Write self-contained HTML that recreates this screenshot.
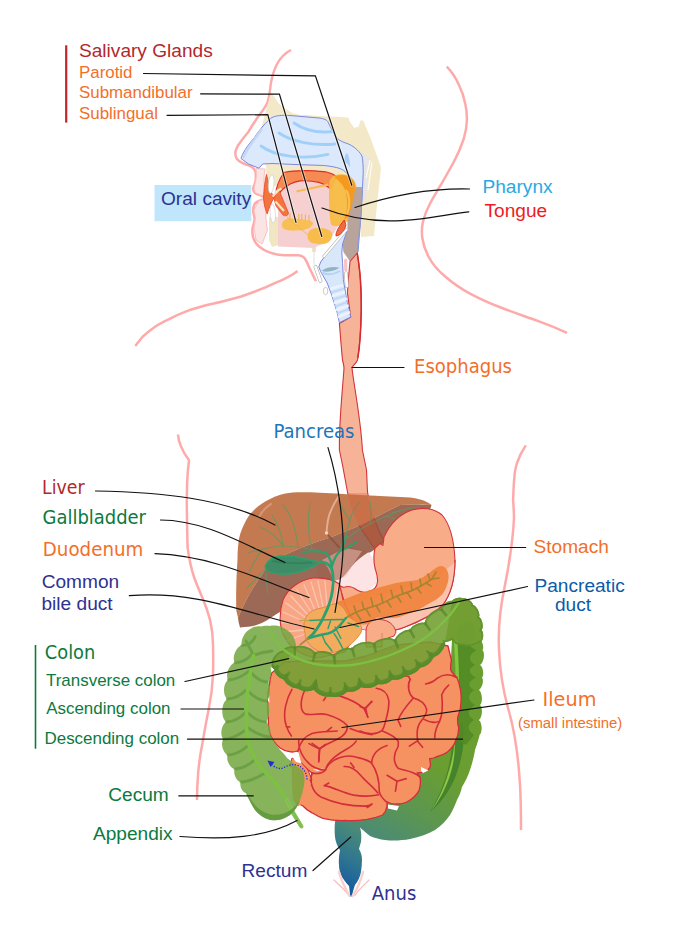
<!DOCTYPE html>
<html lang="en">
<head>
<meta charset="utf-8">
<title>Digestive system diagram</title>
<style>
html,body{margin:0;padding:0;background:#fff;}
svg{display:block;}
.lib{font-family:"Liberation Sans",Arial,sans-serif;}
.dv{font-family:"DejaVu Sans","Liberation Sans",sans-serif;}
.ln{fill:none;stroke:#111;stroke-width:1.2;stroke-linecap:round;}
.skin{fill:none;stroke:#ffaaaa;stroke-width:2.5;stroke-linecap:butt;stroke-linejoin:round;}
</style>
</head>
<body>
<svg width="680" height="942" viewBox="0 0 680 942">
<defs>
<linearGradient id="gSig" gradientUnits="userSpaceOnUse" x1="430" y1="760" x2="350" y2="895">
<stop offset="0" stop-color="#6a9e30"/>
<stop offset="0.33" stop-color="#5c9650"/>
<stop offset="0.62" stop-color="#4a8a78"/>
<stop offset="0.81" stop-color="#2f7590"/>
<stop offset="1" stop-color="#1458a0"/>
</linearGradient>
</defs>
<rect width="680" height="942" fill="#fff"/>

<!-- BODY OUTLINE -->
<g id="outline" class="skin">
<path d="M291,50 C279,56 272,70 270,90 C269.500,96 268.500,99 267.500,102.500 C265,108 261,113 257.500,117.500 C254,123 251,127 248.500,131.800 C245,136 242,139.500 240.300,142.400 C238,145 236.800,147.500 236.200,149.400 C235.400,151 235.200,152.500 235.400,154 C235.600,156 236,157.500 236.800,158.800 C238,160.500 240,162 242.600,163 C245,164 247,164.800 248.500,165.300 C250.500,166 252,167 253.200,168.200 C254.800,169.800 255.600,171.500 255.800,173 L255.800,178.800 C255.500,181 255,183 254.400,184.700 C253.600,186 253.200,187.500 253.200,188.800 C253.200,190.500 253.600,191.500 254.400,192.400 C255.600,193.500 257.500,194.200 259.100,194.700 L263.800,197"/>
<path d="M263,199.500 L259,201 C257,201.800 255.500,202.800 254.700,203.800 C253.500,206 253.200,208.500 253.200,211 C253.400,214 254.200,216.500 254.700,218.500 C254.500,222 253,225.500 252.500,228.800 C252.200,232 252.500,235 253.200,237.600 C254.500,241.500 256.500,244.500 259,246.500 C262,249 265.500,251 269.400,252.400 C274,254 279,255 284,255.300 L298.800,255.300 C301,255.600 303,256.600 304.700,258.200 C306.500,261 308,264 309,267 L315.900,281.300"/>
<path d="M297.600,271 C291,276 284,279.500 276.500,282.400 C265,288 253,292.500 241.200,296.500 C229,300 217,303 205.900,305.300 C200,307 194,308.700 188.200,310.600 C182,313 176,315.500 170.600,318.400 C164,321.500 158,324.500 153,328.200 C149,331 145.500,334 142.400,337 C140,340 137.500,343 135.300,346"/>
<path d="M446.800,66.600 C452,72 456,78 458.900,85 C462,91 464,97 465.300,104 C466.500,109 467,114 466.900,120 C466.800,127 465.500,133 463.700,139 C461,147 458,154 454,161.500 C450,169 446,176 441.400,183.800 C437.500,190 434,196.500 430.300,203 C427,209 424.500,215.500 422.900,222 C421.800,227 421.600,232.500 422.300,238 C423.200,244.500 425.500,251 428.700,257 C432.500,264 438,270.500 444.600,276 C452,282.500 460.500,288.500 470,293.600 C480,299 491,303.800 502,308 C513.500,312.500 525.500,316.500 537,320.700 C547.500,324.500 557.500,328.500 567,332.800"/>
<path d="M178,434.500 C178.500,444 183,452 189,460.300 L187.800,471.500 C187,482 186.800,494 186.800,505 C187,520 187.200,534 187.600,547.400 C189,558 191,568 194,577 C196.500,584 199.500,591 202.500,598 C205.500,605 208,612 210,619.600 C212,628 213,636 213,645 C213.300,655 213.300,665 213,674.800 C212.500,686 211,698 208.800,708.700 C206.500,720 204.500,731 202.500,742.700 C200.500,753 199,763 198.200,772.400 C197.500,781 197,790 197,800"/>
<path d="M525.800,445.400 C522,451 519,457 517,463 C515,470 514.500,473 514.500,476.300 C513.500,485 513.500,492 513.100,500 C513.500,506 514,512 514,518 C513,540 510,560 505,585 C500,608 498,630 499,650 C500,672 503,690 508,708 C514,728 518,750 520,785 C521,802 521,818 521,830"/>
</g>

<!-- HEAD -->
<g id="head">
<!-- bone (beige) -->
<path d="M271,92 L279,104 L292,113 L300,114.700 L348.500,117.600 L350,122 L354.400,128 L358.800,126.500 L360.300,120.600 L363.200,120.600 L370.600,138.200 L378,158.800 L381,167.600 L379.400,182.400 L377,205 L374,236 L361,237 L358,200 L345,178 L330,176 L282,176 L276,186 L267,186 L266,166 L258,140 Z" fill="#f3e9c9"/>
<!-- gray gaps (vertebra) -->
<path d="M362,151.500 L370.600,158.800 L368,170 L366,200 L363,200 L364,170 Z" fill="#e6e6e6"/>
<path d="M370,160 L366,178 M372,162 L368,190" stroke="#fff" stroke-width="1" fill="none"/>
<!-- upper lip skin fill -->
<path d="M256,168.500 C257,175 256,180 255,184 C254,188 254,191 256,193 L262,195.500 L265,192.500 C263.500,186 263.500,178 265,169 Z" fill="#fbe4e4" stroke="#fbc0c0" stroke-width="1"/>
<path d="M259,201 L264,199.500 L266.500,203 C265,212 266,222 267.500,230 L262,244 L256,240 L254,228 L255.500,218 L254,210 Z" fill="#fbe4e4" stroke="#fbc0c0" stroke-width="1"/>
<!-- mandible beige -->
<path d="M269,217 L279,217 L279,245 L272,247 L269,240 Z" fill="#f1e6c4"/>
<rect x="312" y="244" width="4" height="8" fill="#f1e6c4"/>
<!-- nasal cavity + nasopharynx -->
<path d="M241,158.500 C242,154 247,146 254.400,137.600 C260,129 266,122 272,117.500 C276,115.500 282,115 290,115.500 L319,118 C324,118.500 327,120 328,122 C331,128 334,134 336.800,138.200 C340,141 344,142.500 348.500,144 C353,146 356,148.500 358.800,151.500 C361,154 362.300,156 362.500,158.800 C363.200,165 363.300,170 363.200,173.500 L362.500,188 L361,215 L358,252 L354,252 L355.500,190 C355,184 352,178 345.600,172 C343,169.500 340,168.500 336.800,167.600 C330,166 325,165.600 322,165.400 L300,164.700 L272,163.500 L262.600,164 L259,168.200 L248.500,164 Z" fill="#dce9fc" stroke="#7c88de" stroke-width="1"/>
<path d="M243,158 C246,150 254,140 262,129" fill="none" stroke="#c2d6f6" stroke-width="2.500"/>
<g fill="none" stroke="#a0d0f8" stroke-width="2.800" stroke-linecap="round">
<path d="M294,123 C304,130 318,133 332,131.600"/>
<path d="M279,133 C292,142 314,146 335,144"/>
<path d="M261,146 C276,157 304,160 328,154.400"/>
</g>
<path d="M344,161.800 C344.500,157 345.500,154 347,153 C349,156 350,162 350,167.600 C348,164 346,162.500 344,161.800 Z" fill="#a6cdf6"/>
<!-- oral cavity pink -->
<path d="M278,190 C282,180 296,176 312,176 L334,180 L338,226 L330,240 L314,248 L278,246.500 Z" fill="#f6d0d0"/>
<!-- palate -->
<path d="M275,197 C276,186 280,178 284,172.500 C292,170.500 300,170.500 308,170.600 C318,171 324,171.500 326.500,172 C331,173 334,174.500 336.800,176.500 L331,189 C327,185.500 323,183.500 319,182.400 C313,181 306,180.500 300,180.900 C293,182 287,185 282,190 C279,193 277.500,195.500 276.800,198 Z" fill="#f58a52" stroke="#dc2f24" stroke-width="1.100" stroke-linejoin="round"/>
<!-- lips / muscle -->
<path d="M266.500,174.400 C265,180 264,188 263.500,198 C264,205 265.500,210 267.200,214 C269,208 271,203 273.800,198 C271,192 268.500,184 266.500,174.400 Z" fill="#f4743d" stroke="#e8402c" stroke-width="0.800"/>
<path d="M273.800,198 L279,190 L288.500,213 C288,216 285,216.500 283,215 L276,206 Z" fill="#f4743d" stroke="#e8402c" stroke-width="0.700"/>
<path d="M272.500,196.500 L279,190 M275,192 L281.500,188.500" stroke="#f1e2c0" stroke-width="2.200" fill="none"/>
<path d="M275.500,201.500 L284,211" stroke="#f1e2c0" stroke-width="2.200" fill="none"/>
<!-- teeth -->
<ellipse cx="271.200" cy="184" rx="2.800" ry="9.300" fill="#fff" stroke="#c8c8c8" stroke-width="0.600" transform="rotate(5 271.200 184)"/>
<ellipse cx="272.800" cy="213.500" rx="2.600" ry="9.500" fill="#fff" stroke="#c8c8c8" stroke-width="0.600" transform="rotate(-4 272.800 213.500)"/>
<!-- stensen duct -->
<path d="M296.600,191.300 C306,189.500 317,187 328.200,184.700" fill="none" stroke="#f4bb55" stroke-width="2.200"/>
<!-- parotid -->
<path d="M329.400,182 C331,176 336,174 342,174.300 C348,174.500 353,177 355.900,183.800 C357.500,190 357,200 355,210 C352,218 346,224 339,226 C335,226.500 332,225.500 331,224.400 C329,215 328.500,195 329.400,182 Z" fill="#f8bb42" opacity="0.950"/>
<path d="M334,177 C340,173.500 349,174.500 353.500,181 C356.500,188 356,200 352,210 C350,215 347,218.500 344,220 C348,210 348,198 345,190 C342.500,184 338.500,180 334,177 Z" fill="#f59a1e"/>
<path d="M346,190 C350,196 350.500,206 347,214" fill="none" stroke="#fad070" stroke-width="2" opacity="0.700"/>
<!-- sublingual -->
<path d="M282,226 C281.500,221.500 285,219 288.500,218.500 C296,218 304,219.500 310.600,220.700 C313,222 313.500,223 312.800,224.400 C311,228 305,230.300 298.800,230.300 C292,231 283,231 282,226 Z" fill="#f8be4a" opacity="0.930"/>
<path d="M290,219 v-5.500 M294.400,219.500 v-6 M298.800,220 v-6 M301.800,220 v-6 M305.400,220.500 v-6 M309,221 v-6" stroke="#eeb45a" stroke-width="1.100"/>
<path d="M287,217 C294,223 301,229 307.600,234.700" fill="none" stroke="#f2b74c" stroke-width="1"/>
<!-- submandibular -->
<path d="M307.600,236 C307.500,231 312,228 316.500,228 C323,227.500 330,229 332,233 C333,238 330,242 326,243.500 C322,244.500 316,244.500 312,243 C309,241.500 307.600,239 307.600,236 Z" fill="#f8bb42" opacity="0.950"/>
<!-- pharynx grey -->
<path d="M355.500,187 L362.300,187 L361,215 L357.200,252 L350,261.500 L343.400,252 L342.600,244 L347.400,229.600 L347.400,220 L352,205 Z" fill="#b9a49b"/>
<path d="M362.500,188 L361,215 L357.200,252" fill="none" stroke="#8d97e0" stroke-width="1"/>
<!-- epiglottis red -->
<path d="M344.200,220 C341,224 338,228 336.900,231.200 C336,233.500 335.800,235 336.100,236 C339,235.500 341.500,233.500 343.400,231.200 C345,228.500 345.800,226.500 345.800,224.700 Z" fill="#f26a40" stroke="#e02a20" stroke-width="0.900"/>
<!-- esophagus -->
<path d="M350,261.500 L357.200,253 C358,258 358.600,261 358.800,263.500 C359.500,270 360,275 360.400,279.700 C361,287 361.200,292 361.200,296 C361.400,304 361.300,308 361.200,312 C361,322 360,345 357.500,360 C356,364 352,366 352,368 C353,380 361,420 362.400,450 L366.500,470 L367.500,492 C371,512 378,530 384,541 L375,549 L366,536 C356,522 349,505 347.500,492 L342.500,465 L339.400,450 C339,420 343,385 344,368 C344,366 343,362 342.500,360 C341,345 340,330 339.400,323.400 L350.700,317 L347.400,292.700 L348.300,279.700 Z" fill="#f7b397" stroke="#d2343a" stroke-width="1.100"/>
<path d="M357.200,253 C358.600,262 360,272 360.400,279.700 C361.200,292 361.300,304 361.200,312 C361,325 360,345 357.800,358" fill="none" stroke="#d62a30" stroke-width="1.500"/>
<!-- larynx / trachea -->
<path d="M346.600,228.800 L338.500,239.300 L328.800,250.600 L320.700,262 L318.800,266.800 L320.700,271.600 L327.200,283 L332,296 L337,312 L339.400,322.600 L350.700,317 L346.600,299 L343.400,279.700 L342.600,263.500 L341.800,252.200 L342.600,244 L345.800,234.400 L347.400,229.600 Z" fill="#d9e7fb" stroke="#7c88de" stroke-width="1" stroke-linejoin="round"/>
<path d="M321.600,270.800 C327,267 334,266.500 339.400,267.600 C335,271 327,273 321.600,270.800 Z" fill="#8fb4c2"/>
<path d="M322.500,273 C328,275 335,274 340,271" fill="none" stroke="#b4d2f4" stroke-width="2"/>
<path d="M330,289 L343,285 M332,296 L345,292 M334,303 L347,298.500 M336,310 L348.500,305.500 M338,317 L350,312" stroke="#eaf3ff" stroke-width="2.600" fill="none"/>
<path d="M331,292.500 L344,288.500 M333,299.500 L346,295.500 M335,306.500 L347.500,302 M337,313.500 L349,309" stroke="#bcd6f8" stroke-width="1.600" fill="none"/>
<!-- cartilages -->
<path d="M346.600,229.600 L324,256.300" stroke="#b0b0b0" stroke-width="3" stroke-linecap="round" fill="none"/>
<path d="M346.600,229.600 L324,256.300" stroke="#fff" stroke-width="1.900" stroke-linecap="round" fill="none"/>
<path d="M314,247 L314,265" stroke="#d8d8d8" stroke-width="0.800" fill="none"/>
<path d="M315.500,267 L320.500,281" stroke="#b0b0b0" stroke-width="3.800" stroke-linecap="round" fill="none"/>
<path d="M315.500,267 L320.500,281" stroke="#fff" stroke-width="2.600" stroke-linecap="round" fill="none"/>
<ellipse cx="325.600" cy="291" rx="2.200" ry="3.800" fill="#fff" stroke="#b8b8b8" stroke-width="0.700"/>
<path d="M345.600,260 L345.800,270" stroke="#f9c2c8" stroke-width="3.200" stroke-linecap="round" fill="none"/>
<path d="M346,273.500 L346.800,286" stroke="#b0b0b0" stroke-width="4" stroke-linecap="round" fill="none"/>
<path d="M346,273.500 L346.800,286" stroke="#fff" stroke-width="2.800" stroke-linecap="round" fill="none"/>
</g>

<!-- ABDOMEN placeholder -->
<g id="abdomen">
<!-- lesser omentum pale -->
<path d="M316,562 L345,546 L368,551 L374,560 L378,582 L367,593 L350,587 L343,588 L332,583 L318,580 Z" fill="#fde3e3"/>
<!-- liver main -->
<path d="M431.500,505 C426,500 415,497 400,497 C380,496 360,495 342.500,494 C320,492.500 305,492 292.500,492.500 C282,493.500 276,496 270,499 C264,502 259,505 255,509 C250,513.500 247,518 245,522.500 C241,530 239,537 238.500,542.500 C237.500,550 237.500,556 237.500,560 C236.500,575 236,590 236.200,610 L238,618 C243,606 249,594 255,585 C259,579 262,574 265,570 C270,564 275,560 280,557.500 C288,553 297,549.500 305,546.200 C314,543 322,540 330,537.500 C339,534 348,530.500 355,527.500 C364,523.500 373,519 380,515 C388,511 394,508 400,505 C410,504 422,504.500 431.500,505 Z" fill="#c47a50"/>
<!-- liver underside (translucent darker) -->
<path d="M431.500,505 C422,504.500 410,504 400,505 C394,508 388,511 380,515 C373,519 364,523.500 355,527.500 C348,530.500 339,534 330,537.500 C322,540 314,543 305,546.200 C297,549.500 288,553 280,557.500 C275,560 270,564 265,570 C262,574 259,579 255,585 C249,594 243,606 238,618 L238.700,622.500 L240,627.500 C246,627 251,626.500 255,625.500 C260,624 264,622 267.500,620 C272,617 276,614 280,612 C283,606 286,600 290,596 C296,590 302,586 310,584 C316,582 324,581 332,581.500 L340,579 C345,576 348,571 352,566 C356,561 362,556 368,552.500 L370,552.500 C374,550 377,548 380,545 L390,540 L400,522 L415,513 L430,510 Z" fill="#8a4f37" opacity="0.850"/>
<path d="M322,560 L345,548 L362,551 L352,566 L346,576 L334,581 L328,568 Z" fill="#f0bcb4" opacity="0.500"/>
<!-- liver highlights -->
<path d="M259,517 C262,511 266,507 271,504" fill="none" stroke="#dc9c7c" stroke-width="2.200" stroke-linecap="round" opacity="0.800"/>
<path d="M338.500,496.500 C333,505 329,513 327.800,521 C327.200,525 326.800,529 326.500,532.500" fill="none" stroke="#e6b8a0" stroke-width="1.900" stroke-linecap="round" opacity="0.850"/>
<circle cx="326.500" cy="533" r="1.700" fill="#efd2c0"/>
<path d="M328,535 L339.700,548" fill="none" stroke="#8a5030" stroke-width="1.700" opacity="0.850"/>
<!-- liver veins (thin green) -->
<g fill="none" stroke="#5d9a63" stroke-width="1.200" stroke-linecap="round" opacity="0.750">
<path d="M325,552 C310,549 295,546 282,546 C270,546.500 258,550 248,553"/>
<path d="M283,546 C282,535 278,524 272,515 M283,546 C278,538 270,531 260,527"/>
<path d="M312,549 C308,535 307,520 310,503"/>
<path d="M298,547 C296,530 291,514 283,505"/>
<path d="M262,550 C256,558 252,566 249,572 M270,565 C262,572 255,580 247,588 M266,572 C266,580 267,588 268,594"/>
<path d="M340,551 C344,540 348,528 350,520 C352,512 356,506 360,502 M350,520 C345,514 342,508 340,503 M344,540 C352,534 362,528 370,524 C378,520 390,514 400,511"/>
<path d="M370,524 C372,516 371,508 370,502 M385,516 C392,517 398,520 404,524 M392,513 C400,510 410,508 420,507"/>
</g>
<!-- esophagus seen through liver -->
<path d="M347.500,493 C349,505 356,522 366,536 L375,549 L384,541 C378,530 371,512 367.500,493 Z" fill="#d8553a" opacity="0.280"/>
<!-- stomach -->
<path d="M375,548 L380,543.500 L383,545.500 L384,537 C390,524 400,514 412,510 C422,507 434,508 442,515 C450,524 454,540 455,560 C455,580 450,596 442,606 C432,616 418,622 405,627 C396,631 372,634 352,626 L339,585 C341,587 343,587.500 345,587 C349,585.500 353,587 357,590 C360,592 364,592.500 367,592 C372,591 377,588 377.500,582 C378,576 376,572 375,568 C374,563 373,556 375,548 Z" fill="#f8ac87" stroke="#d2343a" stroke-width="1.100" stroke-linejoin="round"/>
<path d="M455,562 C455,580 450,596 442,606 C432,616 418,622 405,627 C396,631 372,634 352,626 L346,606 L400,590 L440,575 Z" fill="#fbc3ad"/>
<path d="M455,560 C455,580 450,596 442,606 C432,616 418,622 405,627 C400,629 396,630 392,631" fill="none" stroke="#d2343a" stroke-width="1.100"/>
<!-- DJ flexure dome -->
<path d="M366,647 L366,630 C367,622 373,619 380,619.500 C388,620 394,624 396,632 L394,636 L382,640 L382,647 Z" fill="#f8ac87" stroke="#d2343a" stroke-width="1"/>
<path d="M382,633 L382,645" stroke="#e0705a" stroke-width="0.800" fill="none"/>
<!-- duodenum -->
<path d="M339.500,584 C333,579.500 322,577.500 313,578 C300,580 288,588 283,600 C279,612 279,626 284,636 C290,648 302,656 318,658 L345,652 L358,630 L343,600 Z" fill="#f8a686" stroke="#d2343a" stroke-width="1.100"/>
<g stroke="#fbc6b0" stroke-width="1.300" fill="none" stroke-linecap="round">
<path d="M306,618 L286,603 M305,622 L283,612 M304,626 L282,622 M304,630 L283,632 M305,634 L286,641 M308,615 L291,596 M311,612 L297,590 M315,610 L304,585 M319,608 L311,582 M323,607 L318,581 M327,606 L325,581 M331,605 L332,582 M335,604 L338,586"/>
</g>
<!-- pancreas body -->
<path d="M332,606 C336,602 340,601 343,600 C349,597 355,595 360.500,593 C372,589 385,586 396,583 C404,581.500 412,581 417.500,580 C423,578 427,574 430,572.500 C434,569 438,566 441,566 C445,566 448,570 448.500,575 C449,580 447,586 445,590 C442,596 436,600 430,603 C422,608 412,613 405,615 C400,617 396,618 392,618 C387,618.500 382,617 378,617.500 C373,619 370,624 366,624.500 C362,625 359,624 357,623 C352,621 349,618 348,616 Z" fill="#f0823a" opacity="0.900"/>
<!-- pancreas head -->
<path d="M304,623 C305,614 313,609 322,608 C328,606 333,603.500 337.500,603.500 C343,606 346,611 348,616 C352,620 358,622 360.500,624.500 C362,628 362,631 360.500,633.500 C356,640 350,646 343,649.500 C337,652 330,653.500 325,653 C319,652 314,649 311,646 C307,642 305,638 305,633.500 C304,630 304,626 304,623 Z" fill="#f3ab5e" stroke="#e0863a" stroke-width="0.900"/>
<!-- pancreatic duct + branches (olive on body) -->
<g fill="none" stroke="#a7842f" stroke-width="1.600" stroke-linecap="round">
<path d="M346,618 C352,614 356,612 360.500,610.500 C368,608 373,606.500 378,605 C386,602 391,598.500 396,596.500 C402,594 408,592.500 414,589.500 C420,587 426,583 432,579"/>
<path d="M356,612.500 L354,606 M356,612.500 L361,620 M364,609.500 L362,602 M366,609 L370,616 M373,606.500 L371,598 M376,605.500 L380,612 M383,603 L381,594 M387,601 L391,607 M393,598 L391,590 M397,596 L401,602 M403,594 L401,586 M407,592.500 L411,598 M412,590.500 L411,583 M417,588 L421,593 M421,586 L420,579 M426,583 L431,586 M430,580 L428,574 M432,579 L439,578 M432,579 L436,572"/>
</g>
<!-- gallbladder + bile ducts -->
<g fill="none" stroke="#2ca06e" stroke-linecap="round" stroke-linejoin="round">
<path d="M320,562 C325,562 329,564 331.500,568 C333.500,574 333.500,582 332.500,590 C331.500,598 329,606 325,614 C322,621 318,628 313,634 L308,638.500" stroke-width="2.800"/>
<path d="M332,566 C331,560 328,555 325,552.500 M332,566 C334,559 337,554 340,551" stroke-width="2.400"/>
<path d="M325,552.500 C318,551 310,551 303,552 M340,551 C343,546 345,541 346,536 M340,551 C346,549 351,546 356,542" stroke-width="1.800"/>
</g>
<path d="M265.500,565.500 C268,560 274,556.500 281,556 C290,555.500 299,557 306,559 C312,560.500 317,561.500 320.500,562.500 C316,565 311,568 305,570 C297,573 288,574.500 280,574 C272,573.500 264,571 265.500,565.500 Z" fill="#3f8d66" stroke="#2ca06e" stroke-width="1.500"/>
<path d="M272,561 C282,563 296,564 312,562.500" fill="none" stroke="#2f7d58" stroke-width="2" opacity="0.600"/>
<!-- ducts in pancreas head -->
<g fill="none" stroke="#2ca06e" stroke-linecap="round" stroke-linejoin="round">
<path d="M309,638 C316,636 322,634.500 328,633.500 C335,632 340,626 344.500,619.500 L346,618" stroke-width="2.400"/>
<path d="M309.500,620.500 C320,620 332,619.500 343,619.500" stroke-width="1.300"/>
<path d="M330.500,621 L328,628.500 M334,633.500 C338,639 341,645 343,649 M325,642 L332,651 M335,627 L341,638.500 M348,623 L358.500,626.500 M322,635 L326,644" stroke-width="1.400"/>
</g>
<path d="M299,620.500 L309.500,620.500" stroke="#c8a24a" stroke-width="1.300" fill="none"/>
<path d="M308,638.500 L300.500,644.500" stroke="#b08a3c" stroke-width="2" fill="none" stroke-linecap="round"/>

<!-- descending colon + sigmoid + rectum (behind small intestine) -->
<path id="dcolon" d="M452,601 C453.1,598.2 460.8,596.5 463,598.5 C465.9,597.3 472.9,601.8 473,605 C476.5,605.5 480.7,613.9 479,617 C482.2,618.4 484,627.5 481.5,630 C483.5,631.8 482.4,638.8 480,640 C482.6,641 484.3,648 482.5,650 C485.4,652.8 483.7,663.3 480,665 C483.1,666.4 484.4,675.2 482,677.5 C484.3,680.1 482,688.8 478.8,690 C482.3,692 483.1,702.5 480,705 C483.1,707.5 482.3,718 478.8,720 C482.2,722.1 482.7,732.6 479.5,735 C480,734 478,742 475,750 C474,757 472,764 470,770 C468,776 465,782 462,787 C461,792 459,796 457,800 C455,805 453,810 450,815 C446,821 441,826 435,830 C428,834 420,837 410,839 C402,840.500 393,841 385,840 C380,839.500 375,838 370,836 C366,833 363,830 360,827.500 C361.500,832 361.500,837 361,842 C360,845 359.500,847 359,849 C361,852 362,856 362,860 C362,864 361.500,868 361,872 C360,877 358,881 355,885 C353.500,889 352.500,893 352,896.500 L350,896.500 C350,893 349.500,889 349,886 C346,883 344,880 342,877 C340,873 339,869 339,865 C338.500,860 339,855 340,850 C337,846 335.500,841 335,837 C334.500,832 334.500,827 335,822 C336,818 340,815 346,814 L380,805 L395,790 L415,765 L435,740 L448,710 L452,640 L445,642 Z" fill="url(#gSig)"/>
<!-- dark shading on descending colon -->
<path d="M462.500,722 C466,740 462,760 455,778 C449,792 440,804 430,812 C442,792 450,770 452,745 C452.500,735 455,726 462.500,722 Z" fill="#3f7f2a" opacity="0.850"/>
<path d="M457.500,630 C460,622 468,618 474,624 L476.500,640 Q464,645 476.500,650 Q464,657.500 475,665 Q464,671 476,677.500 Q463.500,684 474,690 Q463.500,697.500 475,705 Q463,712.500 474,720 Q463,727 474,735 L466,745 L458,740 Z" fill="#528a26" opacity="0.900"/>
<path d="M455.500,640 C456.500,652 457,665 457.300,678 C457.500,690 457,700 456,708" fill="none" stroke="#82c83c" stroke-width="3.400" stroke-linecap="butt"/>
<path d="M454.500,740 C454,752 451,765 447,777 C443,790 437,802 431,811 C440,800 447,786 451,772 C454,762 455.500,750 454.500,740 Z" fill="#8dc63f"/>
<!-- anus -->
<g fill="none" stroke="#f7bcbc" stroke-width="1.200" stroke-linecap="round">
<path d="M334,880 C339,885 345,890 349,895.500"/>
<path d="M369,880 C364,885 358,890 355,895.500"/>
<path d="M339,872 C341,880 345,888 349.500,896 M363,872 C361,880 358,888 352.500,896" stroke="#f9d0d0" stroke-width="2.400"/>
</g>

<!-- small intestine -->
<path d="M271.700,673 C270,678 269.500,682 269.300,686 C267.500,692 267.300,697 267.700,702.400 C267.200,708 267.600,713 268.500,718.500 C268,723 268.500,727 269.300,731.500 C270,735 271.500,737.500 273,740 C275,743 277,745.500 279.800,747.700 C283,750 286,751.300 289.500,751.700 C292,752.200 295,752 297.600,751 L300.800,764 C303,765 304.500,766.500 306,768 C308,769.500 310,771.500 312,773 C310.500,777 310.500,781 311,784 C307,788 303,792 300,797 C299,800 298.800,802 299,804 L303,806 C305.500,809 308.500,811 312,812.800 C315.500,815 319,817 323,818.300 C330,820 338,820.700 345,820.500 C352,821 360,820.500 367,819.400 C372,818.500 378,817 382.700,815 C385,812.500 386.500,809.500 387,806 L387,801.800 C390,803.500 393,804.300 396,804 C401,804 405.500,803 409,800.700 C413,798.500 416.500,795 419,790.700 C420.500,786 420.800,781.500 420,777.500 L417,773 C421,772.800 425,772 428,770 C430,768 430.800,766 430.400,763.600 L429.600,758.700 C432,758.600 434,758 436,757 C440,756 444,754.500 447.400,752 C451,749 454,745.500 455.500,741 C457.500,737 458.800,732.500 458.700,728 C457.500,724 457.300,720 457.900,716.600 C460,712 461,707 461,702 C461.500,697 461,693 460.300,689 C459.500,685 458.500,681 457,677.800 C454.500,675.500 452,673 450.600,669.700 C450.500,666 450.800,663 451.400,660 L448,646 L430,642 L396,645 L382,650 L366,656 L345,661 L300,661 L285,662 Z" fill="#f69262" stroke="#d32d3b" stroke-width="1.300" stroke-linejoin="round"/>
<path d="M292,758 L300,761 L308,770 L312,780 L306,781 L300,772 L290,766 Z" fill="#f69262" stroke="#d32d3b" stroke-width="1"/>
<g fill="#fff">
<path d="M290,753.500 L298.500,752 L301.500,763.500 L296,762 Z"/>
<path d="M313,769.500 L323,768.500 L318,771 Z"/>
<path d="M388,804.500 L399,806 L397,810.500 L388,808.500 Z"/>
<path d="M421,767 L428.500,770.500 L423,773 L421,771 Z"/>
<path d="M269,694 L267.500,700 L269.500,703 Z"/>
</g>
<g fill="none" stroke="#d32d3b" stroke-width="9.900" stroke-linecap="round" stroke-linejoin="round" transform="translate(262 670) scale(0.16176)">
<path d="M185,120 C150,180 125,270 150,345 C160,375 172,395 182,408 M150,350 L172,352"/>
<path d="M262,130 C235,190 235,250 265,270 C300,285 350,262 400,275 C450,290 500,310 528,345 C530,390 490,420 440,440 C410,452 380,470 355,487"/>
<path d="M222,500 C235,450 255,410 310,392 C360,380 420,382 465,377 M400,380 L430,355"/>
<path d="M290,455 C315,470 340,480 355,487 C352,510 350,540 352,560"/>
<path d="M380,188 L393,170"/>
<path d="M480,160 C540,180 600,210 632,240 L655,292 M632,240 L680,195"/>
<path d="M545,362 C590,380 640,395 680,400"/>
</g>
<g fill="none" stroke="#d32d3b" stroke-width="9.900" stroke-linecap="round" stroke-linejoin="round" transform="translate(360 660) scale(0.16176)">
<path d="M100,175 C140,180 170,200 178,250 C182,300 165,350 155,390 C150,410 142,428 135,437 C100,462 50,462 0,438"/>
<path d="M0,288 L35,300 L72,255 M35,300 L47,352"/>
<path d="M310,120 C290,160 300,210 330,235 C370,245 400,265 412,305 C415,340 385,365 368,392 C352,420 350,460 357,500"/>
<path d="M330,235 C290,280 250,330 235,372 L252,410"/>
<path d="M395,367 C430,385 470,390 492,378 C515,330 510,260 505,215 C515,190 530,170 548,155"/>
<path d="M405,148 C440,142 460,130 478,112 C510,90 550,80 598,108"/>
<path d="M492,380 C475,410 462,445 462,482"/>
<path d="M305,532 L355,500 L387,540"/>
<path d="M135,437 C180,455 225,480 237,505 L236,530"/>
<path d="M310,120 L300,100 L250,95"/>
</g>
<g fill="none" stroke="#d32d3b" stroke-width="7.300" stroke-linecap="round" stroke-linejoin="round" transform="translate(290 740) scale(0.2206)">
<path d="M100,150 C130,155 160,148 165,125 C175,95 215,65 250,45 C270,35 290,20 300,5"/>
<path d="M165,125 C190,85 250,60 310,80 C340,88 360,95 370,105 C395,140 405,190 405,235 C410,255 425,270 437,280"/>
<path d="M100,150 C88,190 100,235 140,258 C200,285 280,300 340,300 C355,300 365,295 372,290 M372,290 L350,306"/>
<path d="M155,207 C200,215 240,240 290,250 C330,257 370,255 402,248 M155,207 L176,195"/>
<path d="M245,120 C275,118 300,135 320,160 C345,190 375,210 398,240 M275,104 L290,124"/>
<path d="M370,105 C372,70 395,40 440,25"/>
<path d="M490,30 C470,60 465,100 490,128 C520,140 560,140 590,168"/>
<path d="M440,160 L485,187 L527,175 M485,187 L478,232"/>
<path d="M100,15 L135,40 L160,20 M135,40 L130,100"/>
<path d="M40,0 C35,40 60,90 100,118 C120,130 145,138 162,135"/>
</g>

<path d="M291.500,761 L300,763.500 L306,772 L311,784 L307,800 L298,806.500 L293,800 L292,785 Z" fill="#f69262"/>
<!-- ascending colon + cecum -->
<path id="acolon" d="M261,626.5 C259.3,625.6 252.5,627 251.3,628.4 C249.2,628.6 243.9,633.9 243.7,636 C242.3,637.2 240.9,643.9 241.8,645.6 C236.1,646.3 231.4,658.4 235,662.8 C229.4,663.6 224.7,675.6 228.4,680 C223.1,682.6 222.4,695.9 227.4,699 C221.1,702.2 220.4,718.3 226.5,722 C221.4,723.8 219.4,735.9 223.6,739.3 C220,742.8 223.1,753.8 228,755 C225.3,759 230.2,768.8 235,769 C232.4,772.6 236.6,781.7 241,782 C238.8,785 242.3,792.7 246,793 C246.3,794.4 249.1,800 250,801 C250.4,802.6 253.9,808.9 255,810 C255.9,811.4 261.5,816.3 263,817 C264.1,817.8 269.7,819.9 271,820 C272.5,820.3 279.5,820 281,819.5 C282.5,819.2 288.8,816 290,815 C291.2,814.2 295.4,809.3 296,808 C296.9,807 299.7,801.4 300,800 C300.8,798.6 302.9,791.6 303,790 C303.6,788.6 304.7,781.6 304.5,780 C304.6,778.6 303.6,772.3 303,771 C302,769.8 296.4,765.6 295,765 C294.1,763.6 288.5,758.7 287,758 C286.3,756.5 281.4,750.9 280,750 C279.4,748.6 275.2,743 274,742 C273.7,740.8 270.9,735.9 270,735 C272,732.2 268.9,723.1 265.7,722 C270,719 270.7,704.3 266.6,701 C270.6,698.4 271.3,685.1 267.6,682 C271,680.2 272.6,669.7 270,667 C271.1,667.8 276.7,668.5 278,668 C279.8,667.4 285.4,661.8 286,660 C288.7,658.5 295.7,648 296,645 C296.2,643 293.1,635.3 291.5,634 C290.4,632 282.3,626.7 280,626.5 C278.5,625.6 271.5,625.3 270,626 C268.6,625.4 262.3,625.7 261,626.5 Z" fill="#73a73f" opacity="0.860"/>
<!-- ascending folds -->
<path d="M241.8,645.6 Q251.8,645.1 255.2,636.6 M235.0,662.8 Q245.0,662.3 252.2,653.8 M228.4,680.0 Q238.4,679.5 249.1,671.0 M227.4,699.0 Q237.4,698.5 246.2,690.0 M226.5,722.0 Q236.5,721.5 245.0,713.0 M223.6,739.3 Q233.6,738.8 245.0,730.3 M228.0,755.0 Q238.0,754.5 247.5,746.0 M235.0,769.0 Q245.0,768.5 254.5,760.0 M241.0,782.0 Q251.0,781.5 265.1,773.0 M267.6,682.0 Q258.6,681.5 251.7,673.0 M266.6,701.0 Q257.6,700.5 248.9,692.0 M265.7,722.0 Q256.7,721.5 248.0,713.0 M270.0,737.0 Q261.0,736.5 248.0,728.0 M253.5,655.5 Q262,652 272,651 M253.5,655.5 Q250,648 246,641" fill="none" stroke="#5c963a" stroke-width="2.800" stroke-linecap="round" opacity="0.650"/>
<!-- taenia ascending -->
<path d="M253.500,655.500 C251,668 249,680 247.500,691.500 C246.500,704 246.200,717 246.500,729.700 C247,742 251,753 257,762 C263,770 270,778 277,785 C283,793 288,803 292,812 L301,826" fill="none" stroke="#7dc142" stroke-width="3.600" stroke-linecap="round"/>
<!-- appendix -->
<path d="M287,800 C291,809 296,818 301.500,826.500" fill="none" stroke="#8cbf62" stroke-width="4" stroke-linecap="round"/>
<path d="M287,800 C291,809 296,818 301.500,826.500" fill="none" stroke="#7dc142" stroke-width="1.600" stroke-linecap="round"/>
<!-- cecum shadow bottom -->
<path d="M245,790 C248,797 251,804 255,810 C259,815 264,818.500 270,820 C277,821.500 284,819 290,815 C295,811 298,806 300,800 C296,806 290,812 282,814 C272,816.500 262,813 255,805 C250,799 247,794 245,790 Z" fill="#5c963a" opacity="0.800"/>
<!-- blue dotted arrow -->
<path d="M307,779.500 C307,774 304,768 298,765.500 C292,763 287,766 283,768 C279,769.500 275,767.500 271.500,764.500" fill="none" stroke="#2030d0" stroke-width="1.300" stroke-dasharray="1.300 1.500"/>
<path d="M267.500,760.500 L274.500,762 L270.500,767 Z" fill="#2030d0"/>

<!-- transverse colon -->
<clipPath id="cT"><path d="M272,664 C270.6,659.8 277.6,650.8 282,651 C283.1,647.5 292.2,644.7 295,647 C299.3,643.5 313.3,647.7 315,653 C318.5,649.3 331.8,651.4 334,656 C335.1,650.9 347.7,645.7 352,648.5 C354.2,642.9 369.6,639.4 374,643.5 C376.4,638.4 391.1,635.9 395,640 C395.1,635.2 405.6,628.2 410,630 C410.7,625.7 421.2,620.8 425,623 C424.3,617.4 435.5,607.6 441,609 C440.9,605.4 448.6,599.8 452,601 C453.1,598.2 460.8,596.5 463,598.5 C465.9,597.3 472.9,601.8 473,605 C476.5,605.5 480.7,613.9 479,617 C482.2,618.4 484,627.5 481.5,630 C484.1,631.9 483.7,640.3 481,642 C479.6,643.1 471.8,645.9 470,646 C467.8,646.4 458,645 456,644 C455.2,643.6 452.4,640.8 452,640 C451.1,640.6 446.2,642.1 445,642 C446.5,646.9 438.1,657.4 433,657 C433.2,661.4 424.1,668.4 420,667 C419.5,671.2 409.8,676.5 406,674.5 C404.9,678.3 395.1,681.4 392,679 C390.9,682.8 381.1,685.9 378,683.5 C376.1,687.7 364.2,689.8 361,686.5 C359.9,690.3 350.1,693.4 347,691 C345.6,695.5 333.7,699 330,696 C326.1,698.5 314.9,693.6 314,689 C311.4,692.4 300.2,691.7 298,688 C293.9,689.7 284.1,683.4 284,679 C280.3,679.7 273.3,672.7 274,669 C272.6,668.7 271.2,665.2 272,664 Z"/></clipPath>
<path id="tcolon" d="M272,664 C270.6,659.8 277.6,650.8 282,651 C283.1,647.5 292.2,644.7 295,647 C299.3,643.5 313.3,647.7 315,653 C318.5,649.3 331.8,651.4 334,656 C335.1,650.9 347.7,645.7 352,648.5 C354.2,642.9 369.6,639.4 374,643.5 C376.4,638.4 391.1,635.9 395,640 C395.1,635.2 405.6,628.2 410,630 C410.7,625.7 421.2,620.8 425,623 C424.3,617.4 435.5,607.6 441,609 C440.9,605.4 448.6,599.8 452,601 C453.1,598.2 460.8,596.5 463,598.5 C465.9,597.3 472.9,601.8 473,605 C476.5,605.5 480.7,613.9 479,617 C482.2,618.4 484,627.5 481.5,630 C484.1,631.9 483.7,640.3 481,642 C479.6,643.1 471.8,645.9 470,646 C467.8,646.4 458,645 456,644 C455.2,643.6 452.4,640.8 452,640 C451.1,640.6 446.2,642.1 445,642 C446.5,646.9 438.1,657.4 433,657 C433.2,661.4 424.1,668.4 420,667 C419.5,671.2 409.8,676.5 406,674.5 C404.9,678.3 395.1,681.4 392,679 C390.9,682.8 381.1,685.9 378,683.5 C376.1,687.7 364.2,689.8 361,686.5 C359.9,690.3 350.1,693.4 347,691 C345.6,695.5 333.7,699 330,696 C326.1,698.5 314.9,693.6 314,689 C311.4,692.4 300.2,691.7 298,688 C293.9,689.7 284.1,683.4 284,679 C280.3,679.7 273.3,672.7 274,669 C272.6,668.7 271.2,665.2 272,664 Z" fill="#74a033" opacity="0.890"/>
<g clip-path="url(#cT)"><path d="M272,664 C270.6,659.8 277.6,650.8 282,651 C283.1,647.5 292.2,644.7 295,647 C299.3,643.5 313.3,647.7 315,653 C318.5,649.3 331.8,651.4 334,656 C335.1,650.9 347.7,645.7 352,648.5 C354.2,642.9 369.6,639.4 374,643.5 C376.4,638.4 391.1,635.9 395,640 C395.1,635.2 405.6,628.2 410,630 C410.7,625.7 421.2,620.8 425,623 C424.3,617.4 435.5,607.6 441,609 C440.9,605.4 448.6,599.8 452,601 C453.1,598.2 460.8,596.5 463,598.5 C465.9,597.3 472.9,601.8 473,605 C476.5,605.5 480.7,613.9 479,617 C482.2,618.4 484,627.5 481.5,630 C484.1,631.9 483.7,640.3 481,642 C479.6,643.1 471.8,645.9 470,646 C467.8,646.4 458,645 456,644 C455.2,643.6 452.4,640.8 452,640 C451.1,640.6 446.2,642.1 445,642 C446.5,646.9 438.1,657.4 433,657 C433.2,661.4 424.1,668.4 420,667 C419.5,671.2 409.8,676.5 406,674.5 C404.9,678.3 395.1,681.4 392,679 C390.9,682.8 381.1,685.9 378,683.5 C376.1,687.7 364.2,689.8 361,686.5 C359.9,690.3 350.1,693.4 347,691 C345.6,695.5 333.7,699 330,696 C326.1,698.5 314.9,693.6 314,689 C311.4,692.4 300.2,691.7 298,688 C293.9,689.7 284.1,683.4 284,679 C280.3,679.7 273.3,672.7 274,669 C272.6,668.7 271.2,665.2 272,664 Z" fill="none" stroke="#5a8e2c" stroke-width="3.600" opacity="0.700"/><path d="M445,642 C446.5,646.9 438.1,657.4 433,657 C433.2,661.4 424.1,668.4 420,667 C419.5,671.2 409.8,676.5 406,674.5 C404.9,678.3 395.1,681.4 392,679 C390.9,682.8 381.1,685.9 378,683.5 C376.1,687.7 364.2,689.8 361,686.5 C359.9,690.3 350.1,693.4 347,691 C345.6,695.5 333.7,699 330,696 C326.1,698.5 314.9,693.6 314,689 C311.4,692.4 300.2,691.7 298,688 C293.9,689.7 284.1,683.4 284,679 C280.3,679.7 273.3,672.7 274,669 C272.6,668.7 271.2,665.2 272,664" fill="none" stroke="#578a2a" stroke-width="9" opacity="0.850"/></g>
<path d="M295,647 L294.5,655 M315,653 L313.2,660.8 M334,656 L335,663.9 M352,648.5 L354.4,656.1 M374,643.5 L375.6,651.3 M395,640 L397.8,647.5 M410,630 L413.9,637 M425,623 L429.5,629.6 M441,609 L446.1,615.2 M433,657 L427.3,651.3 M420,667 L415.6,660.3 M406,674.5 L402.8,667.1 M392,679 L389.6,671.4 M378,683.5 L376.1,675.7 M361,686.5 L359.1,678.7 M347,691 L344.7,683.4 M330,696 L330.5,688 M314,689 L315.9,681.2 M298,688 L300.5,680.4 M284,679 L289,672.7" fill="none" stroke="#5a8a2a" stroke-width="2.600" stroke-linecap="round" opacity="0.750"/>
<!-- transverse taenia -->
<path d="M270.500,632 C272,637 275,641 278,644 C282,649 287,652.500 291.500,655 C296,658 301,660 306.800,661.800 C312,663.500 317,664.500 322,665 C332,666 342,666 352,665 C364,663.500 376,660 388,656 C400,651.500 412,646 422,640 C432,633.500 442,624 450,615 C454,610 457,606 459,602" fill="none" stroke="#7dc142" stroke-width="2.300" stroke-linecap="round"/>
</g>


<!-- LEADER LINES -->
<g id="leaderhalo" fill="none" stroke="#fff" stroke-width="3" stroke-opacity="0.450" stroke-linecap="round">
<path d="M315.400,75.900 L351.800,185.300"/>
<path d="M279.400,94.200 L321.800,236.500"/>
<path d="M267.800,114.700 L296,222.400"/>
</g>
<g id="leaders" class="ln">
<path d="M143.500,73.500 L315.400,75.900 L351.800,185.300"/>
<path d="M200.600,93.800 L279.400,94.200 L321.800,236.500"/>
<path d="M167,115.300 L267.800,114.700 L296,222.400"/>
<path d="M469.500,189 C430,188 390,196 355,207.500"/>
<path d="M468.800,211.800 C430,216 385,232 322,208"/>
<path d="M352,367.500 L404,367.500"/>
<path d="M328,447.600 C338,480 346,530 342,565 C340,585 337,600 335,612.500"/>
<path d="M95.500,491 C160,492 225,498 275,525"/>
<path d="M160.500,520 C205,520 245,545 285,562.500"/>
<path d="M155,553.700 C215,556 260,580 309,597.500"/>
<path d="M129.300,595.700 C200,590 250,615 314,629"/>
<path d="M185,681.500 L288.700,658.700"/>
<path d="M181,709 L243.500,709"/>
<path d="M187.500,739.200 L462.500,739.200"/>
<path d="M178.800,795.800 L253.300,795.800"/>
<path d="M180,836.500 C225,840 265,838 297,820.500"/>
<path d="M313,870.500 L350.700,837"/>
<path d="M424.500,547.500 L525.700,547.500"/>
<path d="M527.500,586.500 L340,627.500"/>
<path d="M534,700 L342,727.500"/>
</g>

<!-- LABELS -->
<g id="labels">
<rect x="66.200" y="45.300" width="2.200" height="77.300" fill="#c1272d" transform="translate(-1.100 0)"/>
<text class="lib" x="79" y="57" font-size="19.100" fill="#b3282d">Salivary Glands</text>
<text class="lib" x="79" y="78" font-size="16.900" fill="#f26f2a">Parotid</text>
<text class="lib" x="79" y="98.200" font-size="16.900" fill="#f26f2a">Submandibular</text>
<text class="lib" x="79" y="118.800" font-size="16.900" fill="#f26f2a">Sublingual</text>
<rect x="154.500" y="185" width="96.800" height="36.200" fill="#bfe6fb"/>
<text class="lib" x="161" y="204.500" font-size="19.100" fill="#2e3192">Oral cavity</text>
<text class="lib" x="482.500" y="193" font-size="19.100" fill="#27aae1">Pharynx</text>
<text class="lib" x="484.500" y="217" font-size="19.100" fill="#ed1c24">Tongue</text>
<text class="dv" x="414" y="373" font-size="18.600" fill="#f26f2a" textLength="98" lengthAdjust="spacingAndGlyphs">Esophagus</text>
<text class="dv" x="273.500" y="438" font-size="18.600" fill="#1c75bc" textLength="81" lengthAdjust="spacingAndGlyphs">Pancreas</text>
<text class="dv" x="42" y="494.200" font-size="18.600" fill="#b3282d" textLength="42.600" lengthAdjust="spacingAndGlyphs">Liver</text>
<text class="dv" x="42.500" y="523.800" font-size="18.600" fill="#0b7a3e" textLength="103.500" lengthAdjust="spacingAndGlyphs">Gallbladder</text>
<text class="dv" x="42.800" y="555.700" font-size="18.600" fill="#f26f2a" textLength="100.500" lengthAdjust="spacingAndGlyphs">Duodenum</text>
<text class="lib" x="41.700" y="587.500" font-size="19.100" fill="#2e3192">Common</text>
<text class="lib" x="41.500" y="609.500" font-size="19.100" fill="#2e3192">bile duct</text>
<rect x="34.700" y="645" width="1.600" height="103.700" fill="#0b7a3e"/>
<text class="dv" x="44.800" y="658.700" font-size="18.600" fill="#0b7a3e" textLength="50.500" lengthAdjust="spacingAndGlyphs">Colon</text>
<text class="lib" x="46" y="686.200" font-size="16.950" fill="#0b7a3e">Transverse colon</text>
<text class="lib" x="46.200" y="714.200" font-size="16.950" fill="#0b7a3e">Ascending colon</text>
<text class="lib" x="44.500" y="744.200" font-size="16.950" fill="#0b7a3e">Descending colon</text>
<text class="lib" x="108.300" y="801" font-size="19.100" fill="#0b7a3e">Cecum</text>
<text class="lib" x="93" y="839.500" font-size="19.100" fill="#0b7a3e">Appendix</text>
<text class="lib" x="241.500" y="877" font-size="19.100" fill="#2e3192">Rectum</text>
<text class="dv" x="371.800" y="899.500" font-size="18.600" fill="#2e3192" textLength="44.500" lengthAdjust="spacingAndGlyphs">Anus</text>
<text class="lib" x="533.500" y="552.500" font-size="19.100" fill="#f26f2a">Stomach</text>
<text class="lib" x="534.500" y="591.700" font-size="19.100" fill="#0d5ba8">Pancreatic</text>
<text class="lib" x="555" y="611.200" font-size="19.100" fill="#0d5ba8">duct</text>
<text class="dv" x="542.600" y="706.300" font-size="18.600" fill="#f26f2a" textLength="53.800" lengthAdjust="spacingAndGlyphs">Ileum</text>
<text class="lib" x="518" y="728" font-size="14.900" fill="#f26f2a">(small intestine)</text>
</g>
</svg>
</body>
</html>
